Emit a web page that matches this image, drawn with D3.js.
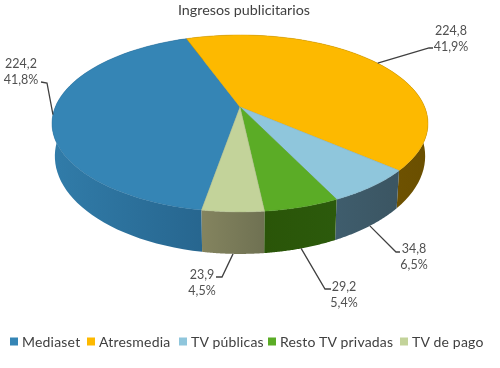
<!DOCTYPE html>
<html><head><meta charset="utf-8">
<script src="https://cdn.jsdelivr.net/npm/d3@7"></script>
<style>html,body{margin:0;padding:0;background:#fff}svg{display:block;filter:blur(.45px)}</style>
</head><body><div id="c"></div>
<script>
// data
const categories=["Mediaset","Atresmedia","TV públicas","Resto TV privadas","TV de pago"];
const values=[224.2,224.8,34.8,29.2,23.9];
const valueLabels=["224,2","224,8","34,8","29,2","23,9"];
const shareLabels=["41,8%","41,9%","6,5%","5,4%","4,5%"];
const colors=["#3585b5","#fdb900","#8fc6dc","#5bac26","#c3d39a"];
const wallLeft=["#317ca9","#86620a","#3f5d6d","#2a5508","#84845f"];
const wallRight=["#27668f","#6a4f00","#3b5562","#2c5a0c","#6f7152"];
// layout
const W=500,H=368;
const apex=[240,107],a=184.7,b=85.4,k=-0.186;
const wallShift=31,wallSX=.985,wallSY=1.105;
const startDeg=-170.2;
const labelFont="Lato, 'Open Sans', sans-serif";
const leaders=[
 {e:[47,83],s:[41,82],c:[21,68],wall:false},
 {e:[429,48],s:[433,48],c:[451,35],wall:false},
 {e:[396,252],s:[400,252],c:[414,253],wall:true},
 {e:[325,289],s:[331,289],c:[344,291],wall:true},
 {e:[222,277],s:[216,277],c:[202,279],wall:true}
];
const legendX=[10,87,179,268,400];
const svg=d3.select("#c").append("svg").attr("width",W).attr("height",H);
const defs=svg.append("defs");
const pie=d3.pie().sort(null).startAngle(startDeg*Math.PI/180).endAngle((startDeg+360)*Math.PI/180);
const arcs=pie(values);
const project=(t,bottom)=>{
  const x=Math.sin(t),y=-Math.cos(t),d=1+k*y;
  const px=a*x/d,py=b*y/d;
  return bottom?[apex[0]+px*wallSX,apex[1]+wallShift+py*wallSY]:[apex[0]+px,apex[1]+py];
};
const sample=(s,e)=>d3.range(0,61).map(i=>s+(e-s)*i/60);
const line=d3.line();
const order=[0,1,2,4,3];
order.forEach(i=>{
  const d=arcs[i],ts=sample(d.startAngle,d.endAngle);
  const top=ts.map(t=>project(t,false)),bot=ts.map(t=>project(t,true)).reverse();
  const xs=top.concat(bot).map(p=>p[0]);
  const g=defs.append("linearGradient").attr("id","w"+i).attr("gradientUnits","userSpaceOnUse")
    .attr("x1",d3.min(xs)).attr("x2",d3.max(xs)).attr("y1",0).attr("y2",0);
  g.append("stop").attr("offset",0).attr("stop-color",wallLeft[i]);
  g.append("stop").attr("offset",1).attr("stop-color",wallRight[i]);
  svg.append("path").attr("d",line(top.concat(bot))+"Z").attr("fill",`url(#w${i})`);
});
arcs.forEach((d,i)=>{
  const pts=[apex].concat(sample(d.startAngle,d.endAngle).map(t=>project(t,false)));
  svg.append("path").attr("d",line(pts)+"Z").attr("fill",colors[i])
    .attr("stroke",d3.color(colors[i]).darker(.35)).attr("stroke-width",.5).attr("stroke-linejoin","round");
});
arcs.forEach((d,i)=>{
  const L=leaders[i],m=(d.startAngle+d.endAngle)/2;
  svg.append("path").attr("d",line([project(m,L.wall),L.e,L.s])).attr("fill","none")
    .attr("stroke","#404040").attr("stroke-width",1.3);
  const t=svg.append("text").attr("text-anchor","middle").attr("font-family",labelFont)
    .attr("font-size",12.5).attr("fill","#505050");
  t.append("tspan").attr("x",L.c[0]).attr("y",L.c[1]).text(valueLabels[i]);
  t.append("tspan").attr("x",L.c[0]).attr("y",L.c[1]+15.5).text(shareLabels[i]);
});
svg.append("text").attr("x",244).attr("y",14.5).attr("text-anchor","middle").attr("font-family",labelFont)
  .attr("font-size",14.3).attr("fill","#404040").text("Ingresos publicitarios");
categories.forEach((c,i)=>{
  svg.append("rect").attr("x",legendX[i]).attr("y",337.5).attr("width",8).attr("height",8).attr("fill",colors[i]);
  svg.append("text").attr("x",legendX[i]+12).attr("y",347).attr("font-family",labelFont)
    .attr("font-size",14).attr("letter-spacing",.2).attr("fill","#404040").text(c);
});
</script></body></html>
